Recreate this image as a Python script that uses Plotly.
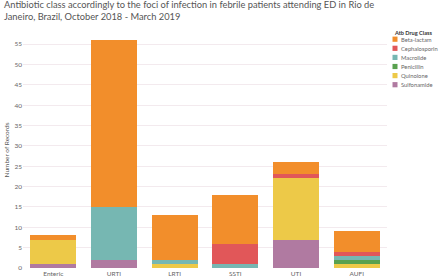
import plotly.graph_objects as go

categories = ["Enteric", "URTI", "LRTI", "SSTI", "UTI", "AUFI"]
drug_classes = ["Beta-lactam", "Cephalosporin", "Macrolide", "Penicillin", "Quinolone", "Sulfonamide"]
beta_lactam = [1, 41, 11, 12, 3, 5]
cephalosporin = [0, 0, 0, 5, 1, 1]
macrolide = [0, 13, 1, 1, 0, 1]
penicillin = [0, 0, 0, 0, 0, 1]
quinolone = [6, 0, 1, 0, 15, 1]
sulfonamide = [1, 2, 0, 0, 7, 0]
colors = {
    "Beta-lactam": "#F28E2B",
    "Cephalosporin": "#E15759",
    "Macrolide": "#76B7B2",
    "Penicillin": "#59A14F",
    "Quinolone": "#EDC948",
    "Sulfonamide": "#B07AA1",
}
series = {
    "Beta-lactam": beta_lactam,
    "Cephalosporin": cephalosporin,
    "Macrolide": macrolide,
    "Penicillin": penicillin,
    "Quinolone": quinolone,
    "Sulfonamide": sulfonamide,
}

W, H = 440, 278
ML, MR, MT, MB = 23, 53, 32, 10
PW, PH = W - ML - MR, H - MT - MB


def px_x(px):
    return (px - ML) / PW


def px_y(py):
    return (H - MB - py) / PH


fig = go.Figure()
# stack from bottom: Sulfonamide ... Beta-lactam
for name in reversed(drug_classes):
    fig.add_trace(go.Bar(
        x=categories, y=series[name], name=name,
        marker=dict(color=colors[name], line=dict(width=0)),
        showlegend=False,
    ))

shapes = []
annotations = []
# Title
annotations.append(dict(
    text="Antibiotic class accordingly to the foci of infection in febrile patients attending ED in Rio de<br>Janeiro, Brazil, October 2018 - March 2019",
    xref="paper", yref="paper", x=px_x(2), y=px_y(-3.5), xanchor="left", yanchor="top",
    align="left", showarrow=False,
    font=dict(size=9.3, color="#555", family="Lato, Open Sans, sans-serif"),
))
# Legend (manual, compact)
annotations.append(dict(
    text="<b>Atb Drug Class</b>", xref="paper", yref="paper",
    x=px_x(391.5), y=px_y(32), xanchor="left", yanchor="middle", showarrow=False,
    font=dict(size=5.6, color="#333", family="Lato, Open Sans, sans-serif"),
))
y0 = 39.2
step = 9.1
for i, name in enumerate(drug_classes):
    cy = y0 + i * step
    shapes.append(dict(
        type="rect", xref="paper", yref="paper",
        x0=px_x(392.5), x1=px_x(397.5), y0=px_y(cy - 2.6), y1=px_y(cy + 2.6),
        fillcolor=colors[name], line=dict(width=0),
    ))
    annotations.append(dict(
        text=name, xref="paper", yref="paper",
        x=px_x(399), y=px_y(cy), xanchor="left", yanchor="middle", showarrow=False,
        font=dict(size=5.8, color="#666", family="Lato, Open Sans, sans-serif"),
    ))

fig.update_layout(
    barmode="stack",
    bargap=0.24,
    width=W, height=H,
    margin=dict(l=ML, r=MR, t=MT, b=MB, autoexpand=False),
    plot_bgcolor="white", paper_bgcolor="white",
    font=dict(family="Lato, Open Sans, sans-serif", color="#666"),
    shapes=shapes,
    annotations=annotations,
    showlegend=False,
)
fig.update_xaxes(
    showgrid=False, showline=False, ticks="", automargin=False,
    tickfont=dict(size=6.5, color="#666"),
)
fig.update_yaxes(
    range=[0, 58], tickvals=list(range(0, 60, 5)),
    showgrid=True, gridcolor="#f3eaee", gridwidth=1,
    zeroline=False, showline=False, ticks="", automargin=False,
    tickfont=dict(size=6.5, color="#666"),
    title=dict(text="Number of Records", font=dict(size=6.5, color="#555"), standoff=4),
)

fig.write_html(
    "out.html",
    config={"displayModeBar": False},
    post_script="document.body.style.margin='0';",
)
